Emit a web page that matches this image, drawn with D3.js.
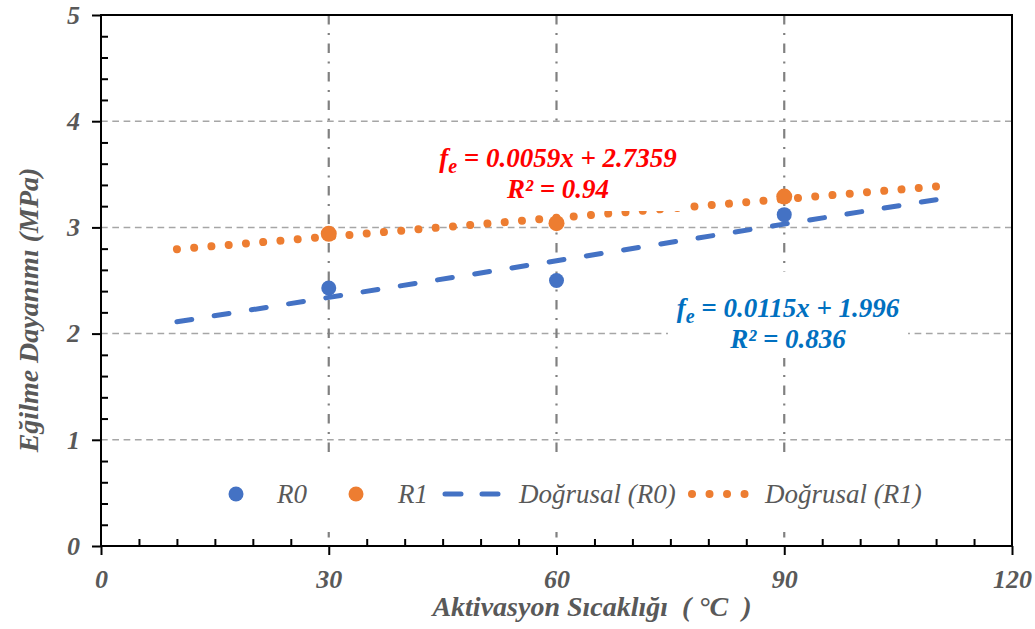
<!DOCTYPE html>
<html>
<head>
<meta charset="utf-8">
<script src="https://cdn.jsdelivr.net/npm/d3@7/dist/d3.min.js"></script>
<style>
  body { margin: 0; background: #fff; }
  svg { display: block; }
</style>
</head>
<body>
<svg id="chart" width="1035" height="629"></svg>
<script>
// Activation temperature (°C) and flexural strength (MPa) per mixture
const temps = [30, 60, 90];
const strengthR0 = [2.43, 2.50, 3.12];
const strengthR1 = [2.94, 3.04, 3.29];

// Linear fits: [slope, intercept]
const fitR0 = [0.0115, 1.996];
const fitR1 = [0.0059, 2.7359];
const fitR0Text = ["0.0115x + 1.996", "0.836"];
const fitR1Text = ["0.0059x + 2.7359", "0.94"];
const fitRange = [10, 110];

const xTicks = [0, 30, 60, 90, 120];
const yTicks = [0, 1, 2, 3, 4, 5];
const legendLabels = ["R0", "R1", "Doğrusal (R0)", "Doğrusal (R1)"];
const xTitle = "Aktivasyon Sıcaklığı  ( °C  )";
const yTitle = "Eğilme Dayanımı (MPa)";

const BLUE = "#4472C4", ORANGE = "#ED7D31", GREY_TXT = "#595959";

const svg = d3.select("#chart");
const plot = { left: 101, right: 1012, top: 15, bottom: 546 };

const x = d3.scaleLinear().domain([0, 120]).range([plot.left, plot.right]);
const y = d3.scaleLinear().domain([0, 5]).range([plot.bottom, plot.top]);

// Text styling helper: serif face, size, weight, slant, colour
function styleText(sel, size, bold, fill) {
  return sel.style("font-family", '"Liberation Serif"')
    .style("font-size", size + "px")
    .style("font-weight", bold ? "bold" : "normal")
    .style("font-style", "italic")
    .style("fill", fill);
}

// Horizontal gridlines (dashed)
svg.append("g").selectAll("line")
  .data(yTicks.filter(v => v > 0 && v < 5))
  .join("line")
  .attr("x1", plot.left).attr("x2", plot.right)
  .attr("y1", d => y(d)).attr("y2", d => y(d))
  .attr("stroke", "#A6A6A6").attr("stroke-width", 1.5)
  .attr("stroke-dasharray", "6.7,4.6");

// Vertical gridlines (dash-dot)
svg.append("g").selectAll("line")
  .data(xTicks.filter(v => v > 0 && v < 120))
  .join("line")
  .attr("x1", d => x(d)).attr("x2", d => x(d))
  .attr("y1", plot.top).attr("y2", plot.bottom)
  .attr("stroke", "#808080").attr("stroke-width", 2.2)
  .attr("stroke-dasharray", "9.5,8.5,2,8.5");

// Trend lines
const fitLine = (fit) => fitRange.map(t => [x(t), y(fit[0] * t + fit[1])]);
svg.append("path")
  .attr("d", d3.line()(fitLine(fitR0)))
  .attr("fill", "none").attr("stroke", BLUE).attr("stroke-width", 5)
  .attr("stroke-linecap", "round").attr("stroke-dasharray", "15,22.7");
svg.append("path")
  .attr("d", d3.line()(fitLine(fitR1)))
  .attr("fill", "none").attr("stroke", ORANGE).attr("stroke-width", 8)
  .attr("stroke-linecap", "round").attr("stroke-dasharray", "0.01,17.3");

// Measured points
svg.append("g").selectAll("circle")
  .data(temps.map((t, i) => [t, strengthR0[i]]))
  .join("circle")
  .attr("cx", d => x(d[0])).attr("cy", d => y(d[1])).attr("r", 7.5)
  .attr("fill", BLUE);
svg.append("g").selectAll("circle")
  .data(temps.map((t, i) => [t, strengthR1[i]]))
  .join("circle")
  .attr("cx", d => x(d[0])).attr("cy", d => y(d[1])).attr("r", 8)
  .attr("fill", ORANGE);

// Regression labels on white boxes
function fitLabel(cx, baseY, color, texts, box) {
  const g = svg.append("g");
  g.append("rect")
    .attr("x", cx - box[0] / 2).attr("y", baseY - box[1])
    .attr("width", box[0]).attr("height", box[1] + box[2]).attr("fill", "#fff");
  const t = styleText(g.append("text"), 27, true, color).attr("text-anchor", "middle");
  const l1 = t.append("tspan").attr("x", cx).attr("y", baseY);
  l1.append("tspan").text("f");
  l1.append("tspan").style("font-size", "20px").attr("dy", 6).text("e");
  l1.append("tspan").attr("dy", -6).text(" = " + texts[0]);
  t.append("tspan").attr("x", cx).attr("y", baseY + 31).text("R² = " + texts[1]);
}
fitLabel(558, 167, "#FF0000", fitR1Text, [252, 42, 44]);
fitLabel(788, 317, "#0070C0", fitR0Text, [240, 45, 41]);

// Legend
const legend = svg.append("g");
legend.append("rect").attr("x", 215).attr("y", 458).attr("width", 735).attr("height", 74).attr("fill", "#fff");
const ly = 494;
const legendText = (lx, s) => styleText(legend.append("text"), 27, false, GREY_TXT)
  .attr("x", lx).attr("y", ly + 9).text(s);
legend.append("circle").attr("cx", 236).attr("cy", ly).attr("r", 7.5).attr("fill", BLUE);
legendText(277, legendLabels[0]);
legend.append("circle").attr("cx", 356).attr("cy", ly).attr("r", 7.5).attr("fill", ORANGE);
legendText(398, legendLabels[1]);
legend.append("line").attr("x1", 445).attr("x2", 498).attr("y1", ly).attr("y2", ly)
  .attr("stroke", BLUE).attr("stroke-width", 5).attr("stroke-linecap", "round")
  .attr("stroke-dasharray", "16,21");
legendText(519, legendLabels[2]);
legend.append("line").attr("x1", 692).attr("x2", 745).attr("y1", ly).attr("y2", ly)
  .attr("stroke", ORANGE).attr("stroke-width", 8).attr("stroke-linecap", "round")
  .attr("stroke-dasharray", "0.01,17.5");
legendText(765, legendLabels[3]);

// Frame and axes
const axisColor = "#000";
svg.append("rect")
  .attr("x", plot.left).attr("y", plot.top)
  .attr("width", plot.right - plot.left).attr("height", plot.bottom - plot.top)
  .attr("fill", "none").attr("stroke", axisColor).attr("stroke-width", 2);

// X axis: major ticks outward, minor ticks inward
const xAxis = svg.append("g").attr("transform", `translate(0,${plot.bottom})`)
  .call(d3.axisBottom(x).tickValues(xTicks).tickFormat(d3.format("d"))
    .tickSize(9).tickSizeOuter(0).tickPadding(15));
xAxis.select(".domain").remove();
xAxis.selectAll("line").attr("stroke", axisColor).attr("stroke-width", 2);
styleText(xAxis.selectAll("text"), 26, true, GREY_TXT);
const xMinor = svg.append("g").attr("transform", `translate(0,${plot.bottom})`)
  .call(d3.axisBottom(x).tickValues(d3.range(0, 121, 5).filter(v => v % 30 !== 0))
    .tickSize(-7).tickFormat(""));
xMinor.select(".domain").remove();
xMinor.selectAll("line").attr("stroke", axisColor).attr("stroke-width", 2);

// Y axis
const yAxis = svg.append("g").attr("transform", `translate(${plot.left},0)`)
  .call(d3.axisLeft(y).tickValues(yTicks).tickFormat(d3.format("d"))
    .tickSize(9).tickSizeOuter(0).tickPadding(12));
yAxis.select(".domain").remove();
yAxis.selectAll("line").attr("stroke", axisColor).attr("stroke-width", 2);
styleText(yAxis.selectAll("text"), 26, true, GREY_TXT);
const yMinor = svg.append("g").attr("transform", `translate(${plot.left},0)`)
  .call(d3.axisLeft(y).tickValues(d3.range(0, 5.01, 0.2).filter(v => Math.abs(v - Math.round(v)) > 0.01))
    .tickSize(-7).tickFormat(""));
yMinor.select(".domain").remove();
yMinor.selectAll("line").attr("stroke", axisColor).attr("stroke-width", 2);

// Axis titles (x title keeps its double spaces)
styleText(svg.append("text"), 28, true, GREY_TXT)
  .style("white-space", "pre")
  .attr("x", 592).attr("y", 616).attr("text-anchor", "middle").text(xTitle);
styleText(svg.append("text"), 28, true, GREY_TXT)
  .attr("transform", "translate(38,310) rotate(-90)").attr("text-anchor", "middle").text(yTitle);
</script>
</body>
</html>
